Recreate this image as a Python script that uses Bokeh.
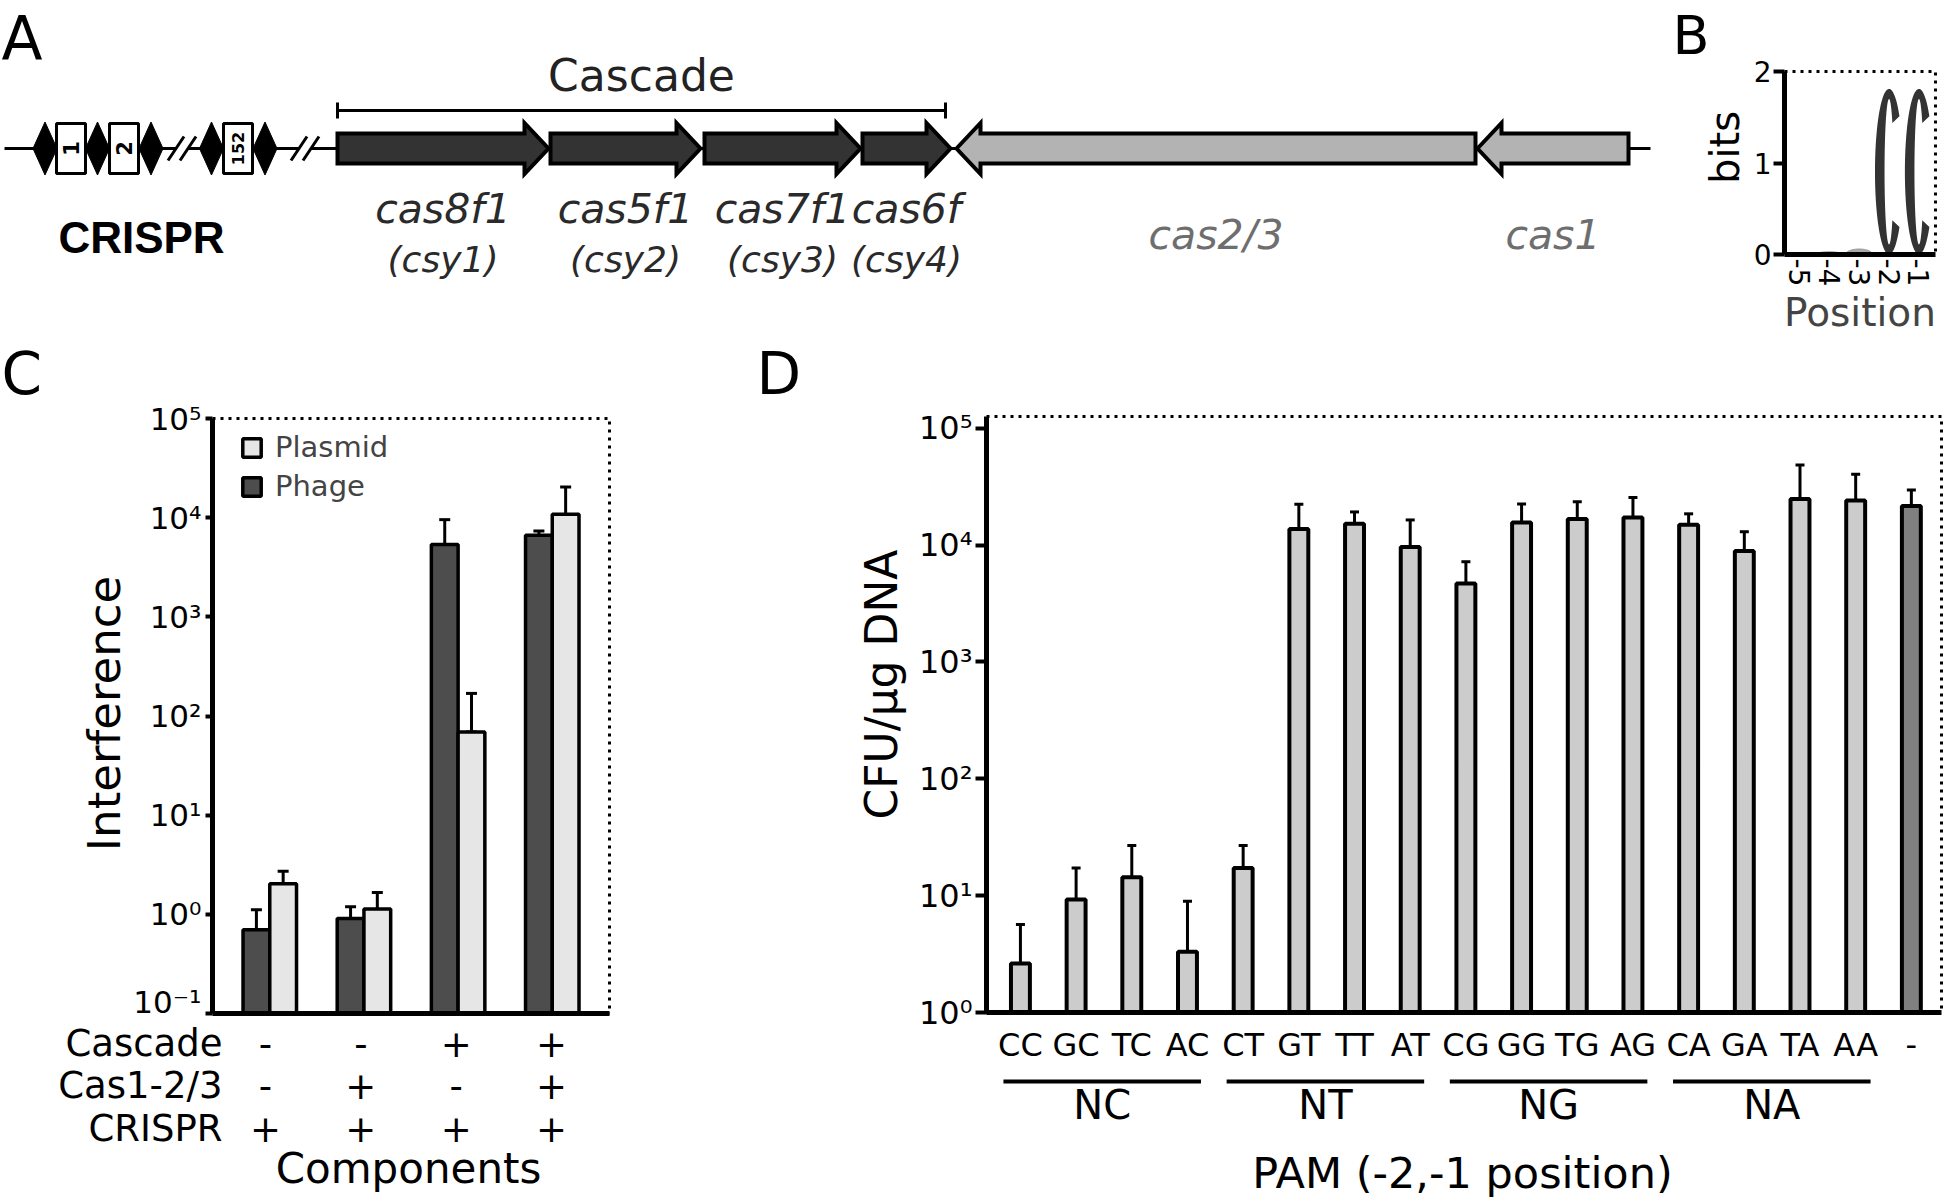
import numpy as np
from bokeh.plotting import figure
from bokeh.models import (Range1d, FixedTicker, Whisker, TeeHead, ColumnDataSource,
                          Legend, LegendItem)
from bokeh.layouts import row, column
from bokeh.embed import file_html
from bokeh.resources import INLINE
from bokeh.core.properties import value

FONT = "DejaVu Sans"

# ---------------- data ----------------
# Panel A: locus map (drawing coordinates along the locus, px)
gene_names = ["cas8f1", "cas5f1", "cas7f1", "cas6f", "cas2/3", "cas1"]
gene_alias = ["(csy1)", "(csy2)", "(csy3)", "(csy4)", "", ""]
gene_start = [337, 550, 704, 862, 956, 1477]
gene_end = [548, 700, 860, 950, 1475, 1628]
gene_strand = [1, 1, 1, 1, -1, -1]
gene_cascade = [True, True, True, True, False, False]
repeat_x = [44.5, 97, 150.5, 211, 264.5]
spacer_x = [70.5, 123.5, 237.5]
spacer_labels = ["1", "2", "152"]
break_x = [181.5, 304.5]

# Panel B: sequence logo
logo_positions = ["-5", "-4", "-3", "-2", "-1"]
logo_bits = [0.0, 0.03, 0.06, 1.81, 1.81]

# Panel C
component_rows = ["Cascade", "Cas1-2/3", "CRISPR"]
cascade_on = ["-", "-", "+", "+"]
cas123_on = ["-", "+", "-", "+"]
crispr_on = ["+", "+", "+", "+"]
phage_mean = [0.70, 0.91, 5350, 6640]
phage_low = [0.305, 0.62, 850, 5550]
phage_high = [1.11, 1.19, 9550, 7330]
plasmid_mean = [2.03, 1.13, 69, 10800]
plasmid_low = [1.37, 0.60, 69, 870]
plasmid_high = [2.72, 1.66, 169, 20400]

# Panel D
pam = ["CC", "GC", "TC", "AC", "CT", "GT", "TT", "AT", "CG", "GG", "TG", "AG",
       "CA", "GA", "TA", "AA", "-"]
pam_groups = ["NC", "NT", "NG", "NA"]
cfu_mean = [2.62, 9.25, 14.4, 3.31, 17.2, 13700, 15200, 9600, 4680, 15600, 16700,
            17200, 14900, 8900, 24800, 24000, 21600]
cfu_low = [2.62, 1.19, 1.74, 3.31, 7.0, 4650, 10500, 2700, 2000, 8500, 8800,
           8100, 11000, 4870, 973, 7600, 13300]
cfu_high = [5.66, 17.2, 26.9, 8.96, 26.9, 22300, 19200, 16400, 7200, 22500, 23500,
            25500, 18500, 13000, 48400, 40300, 29600]

log_labels = {0.1: "10⁻¹", 1: "10⁰", 10: "10¹", 100: "10²", 1000: "10³",
              10000: "10⁴", 100000: "10⁵"}

# ---------------- page geometry (px) ----------------
PAGE_W = 1944
PAGE_H = 1197
TOP_H = 338
A_W = 1750
C_W = 700
C_ROW_H = 1019 - TOP_H
D_ROW_H = 1066 - TOP_H
BOT_H = PAGE_H - TOP_H
CL_W = 130
DL_W = 215
BASE_SHIFT = 0.33  # offset of the drawn alphabetic baseline, in em


def data_fig(width, height, xr, yr, ml, mr, mt, mb, **kw):
    p = figure(width=width, height=height, x_range=xr, y_range=yr, output_backend="svg",
               toolbar_location=None, title=None, min_border_left=ml, min_border_right=mr,
               min_border_top=mt, min_border_bottom=mb, **kw)
    p.grid.visible = False
    p.outline_line_color = "black"
    p.outline_line_dash = "3 5"
    p.outline_line_width = 3
    return p


def pix_fig(x0, x1, y0, y1, xr=None):
    """Figure for decorations; y is minus the page pixel row."""
    p = figure(width=int(x1 - x0), height=int(y1 - y0),
               x_range=xr if xr is not None else Range1d(x0, x1),
               y_range=Range1d(-y1, -y0), output_backend="svg", toolbar_location=None,
               title=None, x_axis_location=None, y_axis_location=None, min_border=0)
    p.grid.visible = False
    p.outline_line_color = None
    return p


def style_axis(ax, size):
    ax.axis_line_width = 5
    ax.axis_line_color = "black"
    ax.major_tick_line_width = 4
    ax.major_tick_line_color = "black"
    ax.major_tick_in = 0
    ax.minor_tick_in = 0
    ax.minor_tick_out = 0
    ax.minor_tick_line_color = None
    ax.major_label_text_font = FONT
    ax.major_label_text_font_size = size
    ax.major_label_text_color = "black"


def txt(p, x, yimg, text, size, font=FONT, color="black", rotated=False, xunit=1.0, **kw):
    """Alphabetic-baseline text; (x, yimg) is the wanted baseline point."""
    px = float(size.replace("px", ""))
    if rotated:
        x = x - BASE_SHIFT * px * xunit
        kw["angle"] = np.pi / 2
        y = -yimg
    else:
        y = -(yimg - BASE_SHIFT * px)
    p.text(x=[x], y=[y], text=[text], text_font=value(font), text_font_size=size,
           text_color=color, text_baseline="alphabetic", **kw)


# ---------------- Panel A ----------------
pA = pix_fig(0, A_W, 0, TOP_H)
Y = 148
pA.segment(x0=[4], y0=[-Y], x1=[1650], y1=[-Y], line_width=3, line_color="black")
for c in break_x:
    pA.patch([c - 14, c + 2, c + 14, c - 2], [-(Y + 12), -(Y - 12), -(Y - 12), -(Y + 12)],
             fill_color="white", line_color=None)
    pA.segment(x0=[c - 14, c - 2], y0=[-(Y + 12)] * 2, x1=[c + 2, c + 14], y1=[-(Y - 12)] * 2,
               line_width=3, line_color="black")
pA.patches([[c - 12, c, c + 12, c] for c in repeat_x],
           [[-Y, -(Y - 26.5), -Y, -(Y + 26.5)] for _ in repeat_x],
           fill_color="black", line_color="black", line_width=1)
pA.rect(x=spacer_x, y=-Y, width=29, height=50, fill_color="white", line_color="black",
        line_width=3)
pA.text(x=spacer_x[:2], y=-Y, text=spacer_labels[:2], angle=np.pi / 2, text_align="center",
        text_baseline="middle", text_font=value(FONT), text_font_style="bold",
        text_font_size="21px", text_color="black")
pA.text(x=spacer_x[2:], y=-Y, text=spacer_labels[2:], angle=np.pi / 2, text_align="center",
        text_baseline="middle", text_font=value(FONT), text_font_style="bold",
        text_font_size="16px", text_color="black")

HEAD = 24
gx, gy, gcol = [], [], []
for s, e, st, casc in zip(gene_start, gene_end, gene_strand, gene_cascade):
    if st > 0:
        xs = [s, e - HEAD, e - HEAD, e, e - HEAD, e - HEAD, s]
        ys = [Y - 15, Y - 15, Y - 25.5, Y, Y + 25.5, Y + 15, Y + 15]
    else:
        xs = [s, s + HEAD, s + HEAD, e, e, s + HEAD, s + HEAD]
        ys = [Y, Y - 25.5, Y - 15, Y - 15, Y + 15, Y + 15, Y + 25.5]
    gx.append(xs)
    gy.append([-v for v in ys])
    gcol.append("#333333" if casc else "#b3b3b3")
pA.patches(gx, gy, fill_color=gcol, line_color="black", line_width=4, line_join="miter")

c0, c1 = gene_start[0], 945
pA.segment(x0=[c0, c0, c1], y0=[-110, -102, -102], x1=[c1, c0, c1], y1=[-110, -118, -118],
           line_width=3, line_color="black")
txt(pA, (c0 + c1) / 2, 90, "Cascade", "44px", color="#222222", text_align="center")

centers = [(s + e) / 2 for s, e in zip(gene_start, gene_end)]
for i in range(6):
    if gene_cascade[i]:
        txt(pA, centers[i], 222, gene_names[i], "41px", color="#2a2a2a", text_align="center",
            text_font_style="italic")
        txt(pA, centers[i], 271, gene_alias[i], "36px", color="#2a2a2a", text_align="center",
            text_font_style="italic")
    else:
        txt(pA, centers[i], 248, gene_names[i], "41px", color="#6e6e6e", text_align="center",
            text_font_style="italic")
txt(pA, 141, 252, "CRISPR", "44px", font="Liberation Sans", text_align="center",
    text_font_style="bold")
txt(pA, 1, 57, "A", "60px", text_align="left")
# panel B letter and y label (left of B's axis)
txt(pA, 1672, 53, "B", "54px", text_align="left")
txt(pA, 1738, 147, "bits", "40px", rotated=True, text_align="center")

# ---------------- Panel B ----------------
B_W = PAGE_W - A_W
pB = data_fig(B_W, TOP_H, Range1d(-0.495, 4.554), Range1d(0, 2),
              1782 - A_W, B_W - (1935 - A_W), 71, TOP_H - 258)
style_axis(pB.xaxis, "28px")
style_axis(pB.yaxis, "28px")
pB.xaxis.ticker = FixedTicker(ticks=list(range(len(logo_positions))))
pB.xaxis.major_label_overrides = {i: t for i, t in enumerate(logo_positions)}
pB.xaxis.major_label_orientation = "vertical"
pB.xaxis.major_tick_out = 0
pB.xaxis.major_label_standoff = 4
pB.xaxis.axis_label = "Position"
pB.xaxis.axis_label_text_font = FONT
pB.xaxis.axis_label_text_font_size = "39px"
pB.xaxis.axis_label_text_font_style = "normal"
pB.xaxis.axis_label_standoff = 1
pB.yaxis.ticker = FixedTicker(ticks=[0, 1, 2])
pB.yaxis.major_tick_out = 11
pB.yaxis.major_label_standoff = 2

lx, ly, sx_, sy_ = [], [], [], []
for i, h in enumerate(logo_bits):
    if h >= 0.3:
        a, tx, ty = 0.47, 0.32, 0.11
        t = np.linspace(np.deg2rad(42), 2 * np.pi - np.deg2rad(42), 80)
        ti = t[::-1]
        lx.append(list(i + a * np.cos(t)) + list(i + (a - tx) * np.cos(ti)))
        ly.append(list(h / 2 + (h / 2) * np.sin(t)) + list(h / 2 + (h / 2 - ty) * np.sin(ti)))
    elif h > 0:
        t = np.linspace(0, np.pi, 30)
        sx_.append(list(i + 0.45 * np.cos(t)))
        sy_.append(list(h * np.sin(t)))
pB.patches(lx, ly, fill_color="#333333", line_color=None)
pB.patches(sx_, sy_, fill_color="#aaaaaa", line_color="#999999", line_width=1)

# ---------------- Panel C ----------------
CX0, CSP = 265.0, 95.35  # group 0 centre and spacing (px)


def cx(px):
    return (px - CX0) / CSP


pCL = pix_fig(0, CL_W, TOP_H, TOP_H + C_ROW_H)
txt(pCL, 1, 393, "C", "58px", text_align="left")
txt(pCL, 119, 713, "Interference", "45px", rotated=True, text_align="center")

pC_W = C_W - CL_W
pC = data_fig(pC_W, C_ROW_H, Range1d(cx(207), cx(609)), Range1d(0.1, 1e5),
              207 - CL_W, C_W - 609, 418 - TOP_H, TOP_H + C_ROW_H - 1013, y_axis_type="log")
style_axis(pC.yaxis, "31px")
style_axis(pC.xaxis, "1px")
pC.yaxis.ticker = FixedTicker(ticks=list(log_labels.keys()), minor_ticks=[])
pC.yaxis.major_label_overrides = log_labels
pC.yaxis.major_tick_out = 7
pC.yaxis.major_label_standoff = 4
pC.xaxis.ticker = FixedTicker(ticks=[])
pC.xaxis.major_tick_out = 0
pC.xaxis.major_label_standoff = 0
pC.xaxis.major_label_text_color = None

n = len(phage_mean)
off = 0.142
xd = [i - off for i in range(n)]
xl = [i + off for i in range(n)]
r_ph = pC.vbar(x=xd, top=phage_mean, bottom=0.1, width=0.284, fill_color="#4d4d4d",
               line_color="black", line_width=3.5)
r_pl = pC.vbar(x=xl, top=plasmid_mean, bottom=0.1, width=0.284, fill_color="#e6e6e6",
               line_color="black", line_width=3.5)
errC = ColumnDataSource(dict(x=xd + xl, lo=phage_low + plasmid_low, hi=phage_high + plasmid_high))
pC.add_layout(Whisker(source=errC, base="x", lower="lo", upper="hi", line_width=3,
                      lower_head=TeeHead(size=11, line_width=3),
                      upper_head=TeeHead(size=11, line_width=3)))
# legend: top-left corner at 28 px right of / 12 px below the frame's top-left corner
LEG_ITEM_H, LEG_SP = 34, 5
leg_h = 2 * LEG_ITEM_H + LEG_SP
legC = Legend(items=[LegendItem(label="Plasmid", renderers=[r_pl]),
                     LegendItem(label="Phage", renderers=[r_ph])],
              location=(28, (1013 - 418) - 12 - leg_h), margin=0, padding=0, spacing=LEG_SP,
              glyph_width=23, glyph_height=23, label_height=LEG_ITEM_H, label_standoff=12,
              label_text_font=FONT, label_text_font_size="29px",
              border_line_color=None, background_fill_alpha=0)
pC.add_layout(legC)

pCT = pix_fig(0, C_W, TOP_H + C_ROW_H, TOP_H + BOT_H, xr=Range1d(cx(0), cx(C_W)))
row_base = [1055, 1097, 1140]
for rname, marks, yb in zip(component_rows, [cascade_on, cas123_on, crispr_on], row_base):
    txt(pCT, cx(222), yb, rname, "37px", text_align="right")
    pCT.text(x=list(range(len(marks))), y=[-(yb - BASE_SHIFT * 37)] * len(marks), text=marks,
             text_font=value(FONT), text_font_size="37px", text_color="black",
             text_align="center", text_baseline="alphabetic")
txt(pCT, cx(408), 1182, "Components", "42px", text_align="center")

# ---------------- Panel D ----------------
DX0, DSP = 1018.0, 55.8  # bar 0 centre and spacing (px)


def dx(px):
    return (px - DX0) / DSP


D_W = PAGE_W - C_W
pDL = pix_fig(C_W, C_W + DL_W, TOP_H, TOP_H + D_ROW_H)
txt(pDL, 756, 393, "D", "58px", text_align="left")
txt(pDL, 896, 684, "CFU/µg DNA", "44px", rotated=True, text_align="center")

pD_W = D_W - DL_W
D_LEFT = C_W + DL_W
D_RIGHT = PAGE_W - 3
pD = data_fig(pD_W, D_ROW_H, Range1d(dx(984), dx(D_RIGHT)), Range1d(1, 10 ** 5.1),
              984 - D_LEFT, PAGE_W - D_RIGHT, 416 - TOP_H, TOP_H + D_ROW_H - 1014,
              y_axis_type="log")
style_axis(pD.yaxis, "32px")
style_axis(pD.xaxis, "32px")
pD.yaxis.ticker = FixedTicker(ticks=[1, 10, 100, 1000, 10000, 100000], minor_ticks=[])
pD.yaxis.major_label_overrides = log_labels
pD.yaxis.major_tick_out = 11
pD.yaxis.major_label_standoff = 3
pD.xaxis.ticker = FixedTicker(ticks=list(range(len(pam))))
pD.xaxis.major_label_overrides = {i: t for i, t in enumerate(pam)}
pD.xaxis.major_tick_out = 0
pD.xaxis.major_label_standoff = 13

xs_d = list(range(len(pam)))
cols_d = ["#808080" if t == "-" else "#cccccc" for t in pam]
pD.vbar(x=xs_d, top=cfu_mean, bottom=1, width=0.34, fill_color=cols_d, line_color="black",
        line_width=4)
errD = ColumnDataSource(dict(x=xs_d, lo=cfu_low, hi=cfu_high))
pD.add_layout(Whisker(source=errD, base="x", lower="lo", upper="hi", line_width=3,
                      lower_head=TeeHead(size=9, line_width=3),
                      upper_head=TeeHead(size=9, line_width=3)))

pDT = pix_fig(C_W, PAGE_W, TOP_H + D_ROW_H, TOP_H + BOT_H, xr=Range1d(dx(C_W), dx(PAGE_W)))
gpos = [g * 4 + 1.5 for g in range(len(pam_groups))]
pDT.segment(x0=[g - 1.77 for g in gpos], y0=[-1081] * 4, x1=[g + 1.77 for g in gpos],
            y1=[-1081] * 4, line_width=4, line_color="black")
pDT.text(x=gpos, y=[-(1118 - BASE_SHIFT * 40)] * 4, text=pam_groups, text_font=value(FONT),
         text_font_size="40px", text_color="black", text_align="center",
         text_baseline="alphabetic")
txt(pDT, dx(1462), 1187, "PAM (-2,-1 position)", "43px", text_align="center")

# plots are wrapped in their own column so that a row does not line up their frames
layout = column(row(pA, column(pB)),
                row(column(row(pCL, column(pC)), pCT),
                    column(row(pDL, column(pD)), pDT)))
open("out.html", "w").write(file_html(layout, INLINE, title="CRISPR figure"))
